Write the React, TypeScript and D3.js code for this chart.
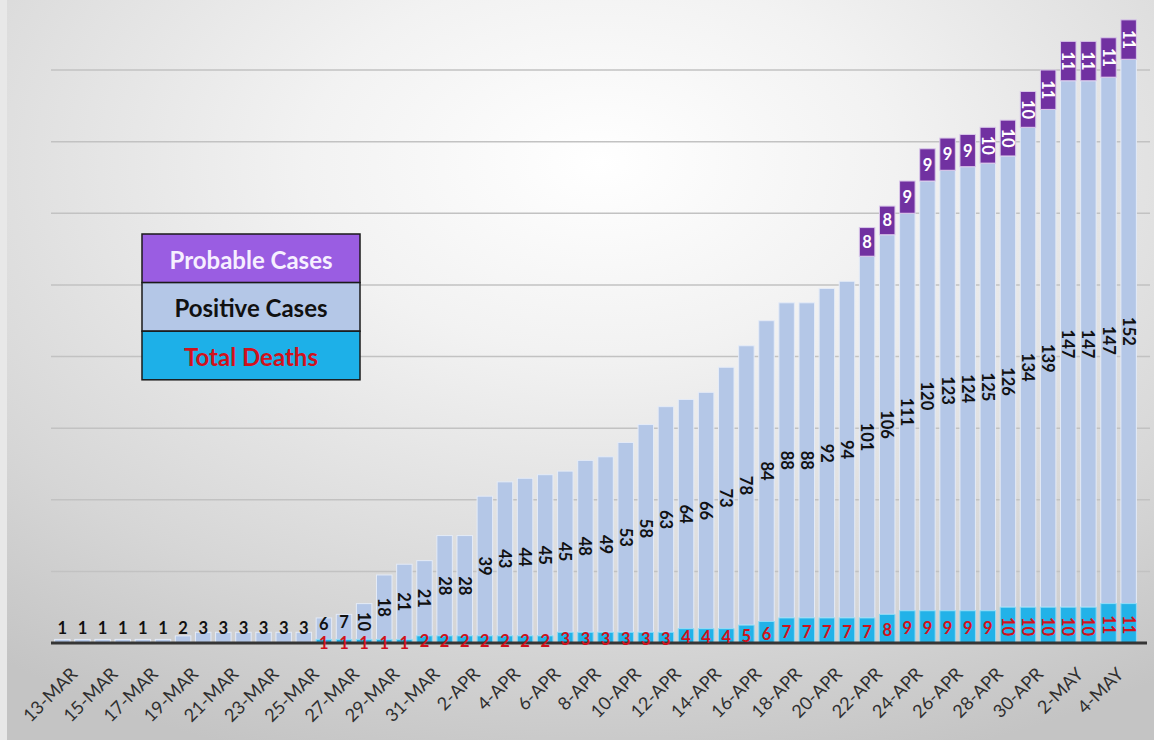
import React, { useEffect, useRef } from 'react';
import * as d3 from 'd3';

const dates = [
  '13-MAR', '14-MAR', '15-MAR', '16-MAR', '17-MAR', '18-MAR', '19-MAR', '20-MAR', '21-MAR',
  '22-MAR', '23-MAR', '24-MAR', '25-MAR', '26-MAR', '27-MAR', '28-MAR', '29-MAR', '30-MAR',
  '31-MAR', '1-APR', '2-APR', '3-APR', '4-APR', '5-APR', '6-APR', '7-APR', '8-APR', '9-APR',
  '10-APR', '11-APR', '12-APR', '13-APR', '14-APR', '15-APR', '16-APR', '17-APR', '18-APR',
  '19-APR', '20-APR', '21-APR', '22-APR', '23-APR', '24-APR', '25-APR', '26-APR', '27-APR',
  '28-APR', '29-APR', '30-APR', '1-MAY', '2-MAY', '3-MAY', '4-MAY', '5-MAY',
];

const deaths = [
  0, 0, 0, 0, 0, 0, 0, 0, 0, 0, 0, 0, 0, 1, 1, 1, 1, 1,
  2, 2, 2, 2, 2, 2, 2, 3, 3, 3, 3, 3, 3, 4, 4, 4, 5, 6,
  7, 7, 7, 7, 7, 8, 9, 9, 9, 9, 9, 10, 10, 10, 10, 10, 11, 11,
];

const positive = [
  1, 1, 1, 1, 1, 1, 2, 3, 3, 3, 3, 3, 3, 6, 7, 10, 18, 21,
  21, 28, 28, 39, 43, 44, 45, 45, 48, 49, 53, 58, 63, 64, 66, 73, 78, 84,
  88, 88, 92, 94, 101, 106, 111, 120, 123, 124, 125, 126, 134, 139, 147, 147, 147, 152,
];

const probable = [
  0, 0, 0, 0, 0, 0, 0, 0, 0, 0, 0, 0, 0, 0, 0, 0, 0, 0,
  0, 0, 0, 0, 0, 0, 0, 0, 0, 0, 0, 0, 0, 0, 0, 0, 0, 0,
  0, 0, 0, 0, 8, 8, 9, 9, 9, 9, 10, 10, 10, 11, 11, 11, 11, 11,
];

const legendItems = [
  { label: 'Probable Cases', fill: '#9a5de2', text: '#f6f0ff' },
  { label: 'Positive Cases', fill: '#b4c7e7', text: '#111111' },
  { label: 'Total Deaths', fill: '#1db0e8', text: '#d0121c' },
];

const W = 1154;
const H = 740;
const FONT = 'Lato, "Open Sans", sans-serif';

const App: React.FC = () => {
  const svgRef = useRef<SVGSVGElement>(null);

  useEffect(() => {
    if (!svgRef.current) return;
    const svg = d3.select(svgRef.current);
    svg.selectAll('*').remove();

    // background
    const defs = svg.append('defs');
    const grad = defs.append('radialGradient')
      .attr('id', 'bg')
      .attr('cx', '52%').attr('cy', '22%').attr('r', '85%');
    grad.append('stop').attr('offset', '0%').attr('stop-color', '#ffffff');
    grad.append('stop').attr('offset', '30%').attr('stop-color', '#f2f2f2');
    grad.append('stop').attr('offset', '75%').attr('stop-color', '#d6d6d6');
    grad.append('stop').attr('offset', '100%').attr('stop-color', '#c4c4c4');
    svg.append('rect').attr('width', W).attr('height', H).attr('fill', 'url(#bg)');
    svg.append('rect').attr('width', 7).attr('height', H).attr('fill', '#e8e8e8');

    const x = d3.scaleBand<string>()
      .domain(dates)
      .range([50, 1141])
      .padding(0.23);

    const y = d3.scaleLinear()
      .domain([0, 160])
      .range([643, 70]);

    // gridlines
    svg.append('g')
      .selectAll('line')
      .data(y.ticks(8).filter(t => t > 0))
      .enter()
      .append('line')
      .attr('x1', 51).attr('x2', 1150)
      .attr('y1', d => y(d)).attr('y2', d => y(d))
      .attr('stroke', '#c2c2c2')
      .attr('stroke-width', 1.5);

    const rows = dates.map((d, i) => ({
      date: d,
      deaths: deaths[i],
      positive: positive[i],
      probable: probable[i],
    }));

    const bw = x.bandwidth();
    const bars = svg.append('g');

    // positive stacked on deaths
    bars.selectAll('.pos')
      .data(rows)
      .enter()
      .append('rect')
      .attr('x', d => x(d.date)!)
      .attr('width', bw)
      .attr('y', d => y(d.deaths + d.positive))
      .attr('height', d => y(d.deaths) - y(d.deaths + d.positive))
      .attr('fill', '#b4c7e7')
      .attr('stroke', '#e4ebf7')
      .attr('stroke-width', 1);

    bars.selectAll('.dth')
      .data(rows.filter(d => d.deaths > 0))
      .enter()
      .append('rect')
      .attr('x', d => x(d.date)!)
      .attr('width', bw)
      .attr('y', d => y(d.deaths))
      .attr('height', d => y(0) - y(d.deaths))
      .attr('fill', '#22b2e8')
      .attr('stroke', '#8fdaf6')
      .attr('stroke-width', 1);

    bars.selectAll('.prob')
      .data(rows.filter(d => d.probable > 0))
      .enter()
      .append('rect')
      .attr('x', d => x(d.date)!)
      .attr('width', bw)
      .attr('y', d => y(d.deaths + d.positive + d.probable))
      .attr('height', d => y(d.deaths + d.positive) - y(d.deaths + d.positive + d.probable))
      .attr('fill', '#7131a1')
      .attr('stroke', '#d9c7ea')
      .attr('stroke-width', 1);

    // baseline
    svg.append('line')
      .attr('x1', 51).attr('x2', 1147)
      .attr('y1', y(0)).attr('y2', y(0))
      .attr('stroke', '#353535')
      .attr('stroke-width', 3);

    // data labels
    const labels = svg.append('g')
      .attr('font-family', FONT)
      .attr('font-weight', 700)
      .attr('font-size', 16.5);

    const addLabel = (
      cx: number, cy: number, value: number, color: string,
    ) => {
      const t = labels.append('text')
        .attr('fill', color)
        .attr('text-anchor', 'middle')
        .attr('dominant-baseline', 'central')
        .text(value);
      if (value >= 10) {
        t.attr('transform', `translate(${cx},${cy}) rotate(90)`);
      } else {
        t.attr('x', cx).attr('y', cy);
      }
    };

    rows.forEach(d => {
      const cx = x(d.date)! + bw / 2;
      const pc = y(d.deaths + d.positive / 2);
      addLabel(cx, d.positive < 10 ? Math.min(pc - 5, 628) : pc, d.positive, '#111111');
      if (d.deaths > 0) addLabel(cx, y(d.deaths / 2) + 1.5, d.deaths, '#d0121c');
      if (d.probable > 0) {
        addLabel(cx, y(d.deaths + d.positive + d.probable / 2), d.probable, '#ffffff');
      }
    });

    // x axis labels (every second date)
    svg.append('g')
      .selectAll('text')
      .data(dates.filter((_, i) => i % 2 === 0))
      .enter()
      .append('text')
      .attr('transform', d => `translate(${x(d)! + bw / 2 + 6},${665}) rotate(-45)`)
      .attr('text-anchor', 'end')
      .attr('dominant-baseline', 'hanging')
      .attr('font-family', FONT)
      .attr('font-size', 18)
      .attr('fill', '#2f2f2f')
      .text(d => d);

    // legend
    const lg = svg.append('g').attr('transform', 'translate(142,234)');
    const lh = 48.6;
    legendItems.forEach((item, i) => {
      lg.append('rect')
        .attr('x', 0).attr('y', i * lh)
        .attr('width', 218).attr('height', lh)
        .attr('fill', item.fill)
        .attr('stroke', '#1a1a1a')
        .attr('stroke-width', 1.5);
      lg.append('text')
        .attr('x', 109).attr('y', i * lh + lh / 2 + 1)
        .attr('text-anchor', 'middle')
        .attr('dominant-baseline', 'central')
        .attr('font-family', FONT)
        .attr('font-weight', 700)
        .attr('font-size', 24)
        .attr('fill', item.text)
        .text(item.label);
    });
  }, []);

  return (
    <svg
      ref={svgRef}
      width={W}
      height={H}
      style={{ position: 'absolute', left: 0, top: 0 }}
    />
  );
};

export default App;
